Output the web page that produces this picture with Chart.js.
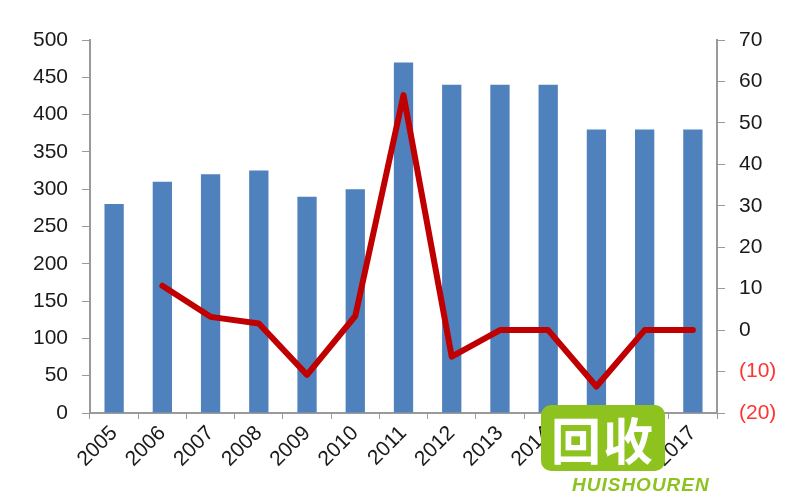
<!DOCTYPE html>
<html>
<head>
<meta charset="utf-8">
<script src="https://cdn.jsdelivr.net/npm/chart.js@4/dist/chart.umd.min.js"></script>
<style>
body{margin:0;background:#fff;}
#wrap{position:relative;width:800px;height:500px;}
.logo{position:absolute;left:541px;top:405px;width:124px;height:66px;background:#8dc21f;border-radius:10px;
  color:#fff;font:bold 50px "Noto Sans CJK SC",sans-serif;line-height:66px;text-align:center;letter-spacing:2px;}
.logoTxt{position:absolute;left:572px;top:474px;color:#8dc21f;font:italic bold 19px "Liberation Sans",Arial,sans-serif;letter-spacing:1px;}
</style>
</head>
<body>
<div id="wrap">
<canvas id="chart" width="800" height="500"></canvas>
<div class="logo">回收</div>
<div class="logoTxt">HUISHOUREN</div>
</div>
<script>
const years = ['2005','2006','2007','2008','2009','2010','2011','2012','2013','2014','2015','2016','2017'];
const amounts = [280,310,320,325,290,300,470,440,440,440,380,380,380];
const growth = [null,10.7,3.2,1.6,-10.8,3.4,56.7,-6.4,0,0,-13.6,0,0];

const axisGray = '#9a9a9a';
const font = {family:'"Liberation Sans", Arial, sans-serif', size:21};

new Chart(document.getElementById('chart').getContext('2d'),{
  type:'bar',
  data:{
    labels:years,
    datasets:[
      {type:'line',data:growth,yAxisID:'y2',borderColor:'#c00000',borderWidth:6,
       pointRadius:0,tension:0,fill:false,borderJoinStyle:'round',borderCapStyle:'round',order:0},
      {type:'bar',data:amounts,yAxisID:'y',backgroundColor:'#4f81bd',
       categoryPercentage:1,barPercentage:0.4,order:1}
    ]
  },
  options:{
    responsive:false,animation:false,
    layout:{padding:{top:40,left:0,right:0,bottom:0}},
    plugins:{legend:{display:false},tooltip:{enabled:false}},
    scales:{
      x:{
        grid:{display:true,drawOnChartArea:false,drawTicks:true,tickLength:6,color:axisGray,offset:true},
        border:{color:axisGray,width:2},
        ticks:{font,color:'#1a1a1a',minRotation:45,maxRotation:45,padding:2,autoSkip:false},
        afterFit:s=>{s.height=87;}
      },
      y:{
        position:'left',min:0,max:500,
        grid:{drawOnChartArea:false,tickLength:8,color:axisGray},
        border:{color:axisGray,width:2},
        ticks:{stepSize:50,font,color:'#1a1a1a',padding:14},
        afterFit:s=>{s.width=90;}
      },
      y2:{
        position:'right',min:-20,max:70,
        grid:{drawOnChartArea:false,tickLength:8,color:axisGray},
        border:{color:axisGray,width:2},
        ticks:{stepSize:10,font,padding:14,
          color:c=>c.tick.value<0?'#ff3333':'#1a1a1a',
          callback:v=>v<0?'('+(-v)+')':v},
        afterFit:s=>{s.width=83;}
      }
    }
  }
});
</script>
</body>
</html>
